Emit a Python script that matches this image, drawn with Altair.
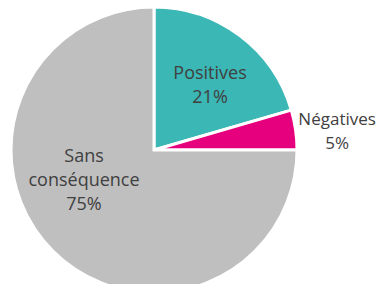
import altair as alt
import pandas as pd

categories = ["Positives", "Négatives", "Sans conséquence"]
values = [20.5, 4.5, 75.0]
pct_labels = ["21%", "5%", "75%"]
display = ["Positives", "Négatives", "Sans\nconséquence"]
colors = ["#3BB7B5", "#E6007E", "#BFBFBF"]

df = pd.DataFrame({
    "cat": categories,
    "val": values,
    "order": list(range(len(categories))),
    "label": [d + "\n" + p for d, p in zip(display, pct_labels)],
})

cx, cy, r = 146, 142, 143

base = alt.Chart(df).encode(
    theta=alt.Theta("val:Q", stack=True),
    order=alt.Order("order:Q"),
    x=alt.value(cx), y=alt.value(cy),
)

arcs = base.mark_arc(radius=r, stroke="white", strokeWidth=3).encode(
    color=alt.Color("cat:N", scale=alt.Scale(domain=categories, range=colors), legend=None),
)

txt = dict(font="Open Sans", color="#404040", lineBreak="\n", lineHeight=24, align="center", baseline="middle")


def label_layer(cat, size, **kw):
    return base.mark_text(fontSize=size, **txt, **kw).encode(
        text=alt.condition(alt.datum.cat == cat, "label:N", alt.value(""))
    )


inner_pos = label_layer("Positives", 18, radius=80, dx=8, dy=-12)
inner_sans = label_layer("Sans conséquence", 18, radius=82, dx=-12, dy=-51)
outer = label_layer("Négatives", 17, radius=190, dx=-5, dy=-3)

chart = alt.layer(arcs, inner_pos, inner_sans, outer).properties(
    width=372, height=276, padding=0, autosize=alt.AutoSizeParams(type="none")
).configure_view(stroke=None)

chart.save("out.html", embed_options={"renderer": "svg", "actions": False})
